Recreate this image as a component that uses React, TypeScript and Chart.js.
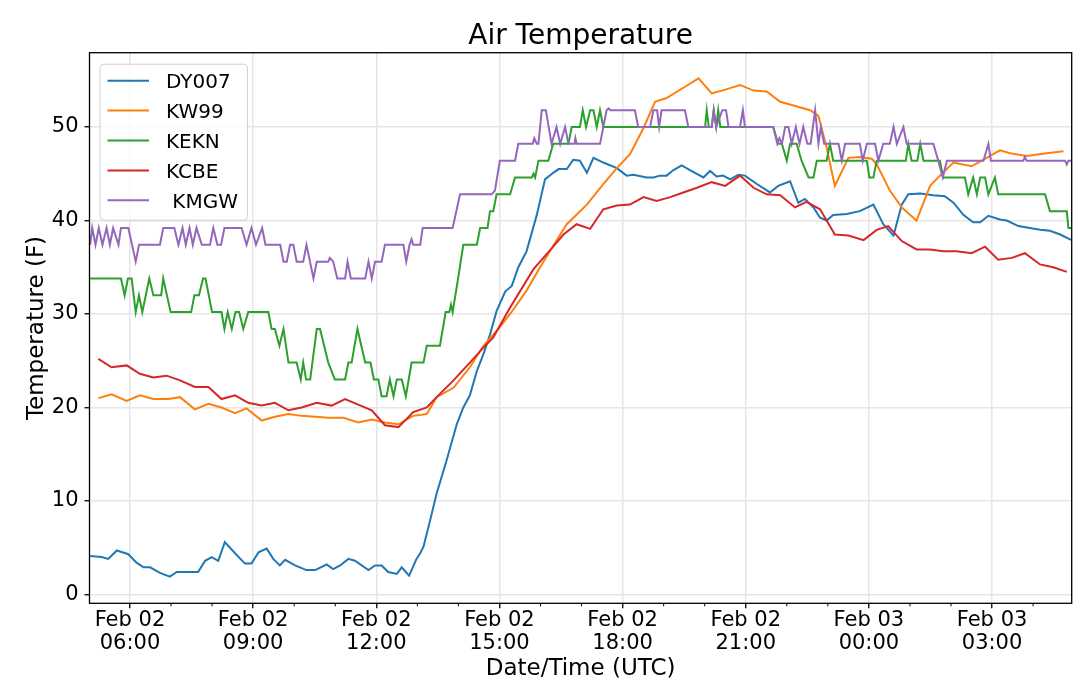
import React, { useEffect, useRef } from 'react';
import { Chart, registerables } from 'chart.js';

Chart.register(...registerables);

const FONT = '"DejaVu Sans", Verdana, sans-serif';

const chartTitle = 'Air Temperature';
const xAxisTitle = 'Date/Time (UTC)';
const yAxisTitle = 'Temperature (F)';

const stationNames = ['DY007', 'KW99', 'KEKN', 'KCBE', ' KMGW'];
const stationColors = ['#1f77b4', '#ff7f0e', '#2ca02c', '#d62728', '#9467bd'];

// hours since Feb 02 00:00 UTC
const xTickHours = [6, 9, 12, 15, 18, 21, 24, 27];
const yTickValues = [0, 10, 20, 30, 40, 50];

const dy007Hours = [5.03, 5.31, 5.47, 5.68, 5.96, 6.16, 6.33, 6.49, 6.73, 6.97, 7.14, 7.66, 7.83, 7.99, 8.15, 8.31, 8.56, 8.8, 8.96, 9.13, 9.33, 9.49, 9.65, 9.78, 10.02, 10.3, 10.51, 10.79, 10.95, 11.12, 11.32, 11.48, 11.81, 11.97, 12.13, 12.29, 12.5, 12.62, 12.8, 12.98, 13.07, 13.15, 13.31, 13.47, 13.71, 13.96, 14.12, 14.28, 14.45, 14.61, 14.77, 14.93, 15.14, 15.3, 15.46, 15.66, 15.91, 16.11, 16.31, 16.44, 16.64, 16.8, 16.96, 17.13, 17.29, 17.53, 17.86, 18.1, 18.26, 18.59, 18.75, 18.91, 19.07, 19.24, 19.44, 19.64, 19.97, 20.13, 20.29, 20.45, 20.62, 20.82, 20.98, 21.27, 21.59, 21.79, 22.08, 22.28, 22.44, 22.65, 22.81, 22.97, 23.13, 23.46, 23.78, 24.11, 24.35, 24.6, 24.8, 24.96, 25.25, 25.57, 25.85, 26.06, 26.3, 26.54, 26.71, 26.91, 27.19, 27.36, 27.64, 27.92, 28.17, 28.41, 28.66, 28.94];
const dy007Temps = [4.1, 4.0, 3.8, 4.7, 4.3, 3.4, 2.9, 2.9, 2.3, 1.9, 2.4, 2.4, 3.6, 4.0, 3.6, 5.6, 4.4, 3.3, 3.3, 4.5, 4.9, 3.8, 3.1, 3.7, 3.1, 2.6, 2.6, 3.2, 2.7, 3.1, 3.8, 3.6, 2.6, 3.1, 3.1, 2.4, 2.2, 2.9, 2.0, 3.8, 4.4, 5.1, 7.9, 10.8, 14.3, 18.2, 20.0, 21.3, 23.9, 25.7, 27.8, 30.3, 32.4, 33.0, 35.0, 36.7, 40.6, 44.4, 45.1, 45.5, 45.5, 46.5, 46.4, 45.1, 46.7, 46.2, 45.6, 44.8, 44.9, 44.6, 44.6, 44.8, 44.8, 45.4, 45.9, 45.4, 44.6, 45.3, 44.7, 44.8, 44.4, 44.9, 44.8, 43.9, 43.0, 43.7, 44.2, 41.9, 42.3, 41.4, 40.3, 40.0, 40.6, 40.7, 41.0, 41.7, 39.6, 38.4, 41.7, 42.8, 42.9, 42.7, 42.6, 41.9, 40.6, 39.8, 39.8, 40.5, 40.1, 40.0, 39.4, 39.2, 39.0, 38.9, 38.5, 37.9];

const kw99Hours = [5.23, 5.55, 5.92, 6.24, 6.57, 6.93, 7.22, 7.58, 7.91, 8.23, 8.56, 8.84, 9.21, 9.53, 9.86, 10.18, 10.51, 10.83, 11.2, 11.56, 11.89, 12.21, 12.54, 12.9, 13.23, 13.47, 13.88, 14.28, 14.61, 14.85, 15.01, 15.26, 15.66, 15.99, 16.31, 16.64, 17.13, 17.53, 17.86, 18.18, 18.51, 18.79, 19.07, 19.48, 19.85, 20.17, 20.5, 20.86, 21.19, 21.51, 21.84, 22.16, 22.57, 22.77, 22.97, 23.17, 23.5, 23.78, 24.07, 24.19, 24.51, 24.8, 25.16, 25.49, 25.73, 26.06, 26.5, 26.87, 27.19, 27.44, 27.84, 28.33, 28.74];
const kw99Temps = [21.0, 21.4, 20.7, 21.3, 20.9, 20.9, 21.1, 19.8, 20.4, 20.0, 19.4, 19.9, 18.6, 19.0, 19.3, 19.1, 19.0, 18.9, 18.9, 18.4, 18.7, 18.4, 18.2, 19.1, 19.3, 21.1, 22.1, 24.3, 26.6, 27.8, 28.6, 30.0, 32.5, 35.0, 37.3, 39.6, 41.7, 43.9, 45.6, 47.1, 49.9, 52.7, 53.1, 54.2, 55.2, 53.6, 54.0, 54.5, 53.9, 53.8, 52.7, 52.3, 51.8, 51.2, 47.8, 43.7, 46.7, 46.8, 46.6, 46.0, 43.2, 41.4, 40.0, 43.7, 44.8, 46.2, 45.8, 46.7, 47.5, 47.2, 46.9, 47.2, 47.4];

const keknHours = [5.03, 5.78, 5.87, 5.95, 6.04, 6.14, 6.22, 6.3, 6.47, 6.57, 6.76, 6.81, 6.99, 7.49, 7.57, 7.68, 7.78, 7.84, 8.0, 8.23, 8.3, 8.38, 8.48, 8.57, 8.66, 8.76, 8.88, 9.37, 9.45, 9.53, 9.64, 9.74, 9.86, 10.06, 10.16, 10.22, 10.29, 10.39, 10.55, 10.63, 10.83, 10.99, 11.24, 11.32, 11.4, 11.54, 11.73, 11.86, 11.94, 12.05, 12.13, 12.25, 12.33, 12.42, 12.5, 12.62, 12.72, 12.86, 13.15, 13.23, 13.55, 13.69, 13.78, 13.82, 13.86, 14.0, 14.12, 14.45, 14.53, 14.71, 14.77, 14.85, 14.93, 15.26, 15.38, 15.79, 15.83, 15.87, 15.95, 16.19, 16.31, 16.68, 16.76, 16.96, 17.03, 17.11, 17.21, 17.29, 17.37, 17.45, 17.53, 20.01, 20.05, 20.1, 20.17, 20.22, 20.28, 20.33, 20.38, 21.67, 21.79, 21.88, 22.0, 22.08, 22.24, 22.36, 22.53, 22.65, 22.73, 22.97, 23.05, 23.13, 23.95, 24.01, 24.11, 24.19, 24.9, 24.96, 25.04, 25.18, 25.25, 25.33, 25.73, 25.81, 26.34, 26.42, 26.54, 26.63, 26.71, 26.83, 26.91, 27.07, 27.15, 28.29, 28.41, 28.82, 28.86, 28.94];
const keknTemps = [33.8, 33.8, 32.0, 33.8, 33.8, 30.2, 32.0, 30.2, 33.8, 32.0, 32.0, 33.8, 30.2, 30.2, 32.0, 32.0, 33.8, 33.8, 30.2, 30.2, 28.4, 30.2, 28.4, 30.2, 30.2, 28.4, 30.2, 30.2, 28.4, 28.4, 26.6, 28.4, 24.8, 24.8, 23.0, 24.8, 23.0, 23.0, 28.4, 28.4, 24.8, 23.0, 23.0, 24.8, 24.8, 28.4, 24.8, 24.8, 23.0, 23.0, 21.2, 21.2, 23.0, 21.2, 23.0, 23.0, 21.2, 24.8, 24.8, 26.6, 26.6, 30.2, 30.2, 31.0, 30.2, 34.0, 37.4, 37.4, 39.2, 39.2, 41.0, 41.0, 42.8, 42.8, 44.6, 44.6, 45.0, 44.6, 46.4, 46.4, 48.2, 48.2, 50.0, 50.0, 51.8, 50.0, 51.8, 51.8, 50.0, 51.8, 50.0, 50.0, 51.8, 50.0, 50.0, 51.8, 50.0, 51.8, 50.0, 50.0, 48.2, 48.2, 46.4, 48.2, 48.2, 46.4, 44.6, 44.6, 46.4, 46.4, 48.2, 46.4, 46.4, 44.6, 44.6, 46.4, 46.4, 48.2, 46.4, 46.4, 48.2, 46.4, 46.4, 44.6, 44.6, 42.8, 44.6, 42.8, 44.6, 44.6, 42.8, 44.6, 42.8, 42.8, 41.0, 41.0, 39.2, 39.2];

const kcbeHours = [5.23, 5.55, 5.92, 6.24, 6.57, 6.89, 7.22, 7.58, 7.91, 8.23, 8.56, 8.88, 9.21, 9.53, 9.86, 10.18, 10.55, 10.91, 11.24, 11.56, 11.89, 12.21, 12.54, 12.9, 13.23, 13.47, 13.88, 14.28, 14.61, 14.85, 15.26, 15.83, 16.23, 16.56, 16.88, 17.21, 17.53, 17.86, 18.18, 18.51, 18.83, 19.16, 19.48, 19.81, 20.17, 20.5, 20.86, 21.19, 21.51, 21.84, 22.2, 22.48, 22.81, 23.17, 23.5, 23.87, 24.19, 24.47, 24.8, 25.16, 25.49, 25.81, 26.14, 26.5, 26.83, 27.15, 27.48, 27.8, 28.17, 28.49, 28.82];
const kcbeTemps = [25.2, 24.3, 24.5, 23.6, 23.2, 23.4, 22.9, 22.2, 22.2, 20.9, 21.3, 20.5, 20.2, 20.5, 19.7, 20.0, 20.5, 20.2, 20.9, 20.3, 19.7, 18.1, 17.9, 19.5, 20.0, 21.1, 22.9, 24.8, 26.4, 27.5, 30.7, 34.8, 36.8, 38.5, 39.6, 39.1, 41.2, 41.6, 41.7, 42.5, 42.1, 42.5, 43.0, 43.5, 44.1, 43.7, 44.8, 43.5, 42.8, 42.7, 41.4, 42.0, 41.2, 38.5, 38.4, 37.9, 39.0, 39.4, 37.8, 36.9, 36.9, 36.7, 36.7, 36.5, 37.2, 35.8, 36.0, 36.5, 35.3, 35.0, 34.5];

const kmgwHours = [5.03, 5.08, 5.16, 5.24, 5.33, 5.43, 5.51, 5.59, 5.72, 5.78, 5.96, 6.14, 6.22, 6.73, 6.81, 7.08, 7.18, 7.28, 7.36, 7.45, 7.53, 7.62, 7.75, 7.95, 8.03, 8.13, 8.22, 8.3, 8.72, 8.84, 8.96, 9.07, 9.22, 9.3, 9.66, 9.74, 9.82, 9.9, 9.98, 10.06, 10.22, 10.3, 10.47, 10.55, 10.83, 10.87, 10.95, 11.05, 11.24, 11.3, 11.38, 11.73, 11.81, 11.89, 11.97, 12.13, 12.21, 12.66, 12.73, 12.81, 12.86, 12.9, 13.07, 13.13, 13.86, 13.9, 14.04, 14.81, 14.89, 15.01, 15.38, 15.46, 15.81, 15.85, 15.91, 15.95, 16.03, 16.13, 16.27, 16.39, 16.48, 16.6, 16.68, 16.83, 16.85, 16.88, 17.45, 17.61, 17.66, 17.7, 18.3, 18.38, 18.67, 18.75, 18.84, 18.89, 18.95, 19.52, 19.6, 20.17, 20.22, 20.28, 20.43, 20.52, 20.58, 20.86, 20.93, 20.98, 21.67, 21.77, 21.82, 21.88, 21.96, 22.04, 22.12, 22.22, 22.31, 22.4, 22.5, 22.58, 22.69, 22.77, 22.83, 22.91, 23.26, 23.34, 23.42, 23.78, 23.85, 23.95, 24.15, 24.23, 24.35, 24.51, 24.6, 24.68, 24.84, 24.92, 25.57, 25.69, 25.8, 25.9, 26.79, 26.91, 26.97, 27.76, 27.8, 27.84, 28.78, 28.82, 28.86, 28.94];
const kmgwTemps = [37.4, 39.2, 37.4, 39.2, 37.4, 39.2, 37.4, 39.2, 37.4, 39.2, 39.2, 35.6, 37.4, 37.4, 39.2, 39.2, 37.4, 39.2, 37.4, 39.2, 37.4, 39.2, 37.4, 37.4, 39.2, 37.4, 37.4, 39.2, 39.2, 37.4, 39.2, 37.4, 39.2, 37.4, 37.4, 35.6, 35.6, 37.4, 37.4, 35.6, 35.6, 37.4, 33.8, 35.6, 35.6, 36.0, 35.6, 33.8, 33.8, 35.6, 33.8, 33.8, 35.6, 33.8, 35.6, 35.6, 37.4, 37.4, 35.6, 37.4, 38.0, 37.4, 37.4, 39.2, 39.2, 40.0, 42.8, 42.8, 43.2, 46.4, 46.4, 48.2, 48.2, 48.8, 48.2, 48.2, 51.8, 51.8, 48.2, 50.0, 48.2, 50.0, 48.2, 48.2, 48.8, 48.2, 48.2, 51.8, 52.0, 51.8, 51.8, 50.0, 50.0, 51.8, 51.8, 50.0, 51.8, 51.8, 50.0, 50.0, 51.8, 50.0, 51.8, 51.8, 50.0, 50.0, 51.8, 50.0, 50.0, 48.2, 48.8, 48.2, 50.0, 50.0, 48.2, 50.0, 48.2, 50.0, 48.2, 48.2, 51.8, 48.2, 50.0, 48.2, 48.2, 46.4, 48.2, 48.2, 46.4, 48.2, 48.2, 46.4, 48.2, 48.2, 50.0, 48.2, 50.0, 48.2, 48.2, 46.4, 44.6, 46.4, 46.4, 48.2, 46.4, 46.4, 46.8, 46.4, 46.4, 46.0, 46.4, 46.4];

const seriesHours = [dy007Hours, kw99Hours, keknHours, kcbeHours, kmgwHours];
const seriesTemps = [dy007Temps, kw99Temps, keknTemps, kcbeTemps, kmgwTemps];

const pad2 = (n) => (n < 10 ? '0' + n : '' + n);

// title, axes frame, minor ticks and the in-plot legend (matplotlib look)
const decorPlugin = {
  id: 'decor',
  afterDraw(chart) {
    const { ctx, chartArea: a, scales } = chart;
    ctx.save();

    // minor x ticks every hour
    ctx.strokeStyle = '#000';
    ctx.lineWidth = 1;
    for (let h = 6; h <= 28; h++) {
      if (h % 3 === 0) continue;
      const px = scales.x.getPixelForValue(h);
      ctx.beginPath();
      ctx.moveTo(px, a.bottom);
      ctx.lineTo(px, a.bottom + 3);
      ctx.stroke();
    }

    // frame
    ctx.lineWidth = 1.3;
    ctx.strokeRect(a.left, a.top, a.right - a.left, a.bottom - a.top);

    // title
    ctx.fillStyle = '#000';
    ctx.font = `28px ${FONT}`;
    ctx.textAlign = 'center';
    ctx.textBaseline = 'alphabetic';
    ctx.fillText(chartTitle, (a.left + a.right) / 2, 44.3);

    // legend box
    const lx = a.left + 10.5;
    const ly = a.top + 11.5;
    const lw = 147.5;
    const lh = 156;
    const r = 4;
    ctx.beginPath();
    ctx.moveTo(lx + r, ly);
    ctx.lineTo(lx + lw - r, ly);
    ctx.arcTo(lx + lw, ly, lx + lw, ly + r, r);
    ctx.lineTo(lx + lw, ly + lh - r);
    ctx.arcTo(lx + lw, ly + lh, lx + lw - r, ly + lh, r);
    ctx.lineTo(lx + r, ly + lh);
    ctx.arcTo(lx, ly + lh, lx, ly + lh - r, r);
    ctx.lineTo(lx, ly + r);
    ctx.arcTo(lx, ly, lx + r, ly, r);
    ctx.closePath();
    ctx.fillStyle = 'rgba(255,255,255,0.8)';
    ctx.fill();
    ctx.strokeStyle = '#d0d0d0';
    ctx.lineWidth = 1;
    ctx.stroke();

    ctx.font = `20px ${FONT}`;
    ctx.textAlign = 'left';
    chart.data.datasets.forEach((ds, i) => {
      const rowY = ly + 16.5 + i * 29.9;
      ctx.strokeStyle = ds.borderColor;
      ctx.lineWidth = 2;
      ctx.beginPath();
      ctx.moveTo(lx + 7.5, rowY);
      ctx.lineTo(lx + 49, rowY);
      ctx.stroke();
      ctx.fillStyle = '#000';
      ctx.fillText(ds.label, lx + 66, rowY + 7.4);
    });

    ctx.restore();
  },
};

const AirTemperatureChart = () => {
  const chartRef = useRef(null);

  useEffect(() => {
    const ctx = chartRef.current.getContext('2d');

    const datasets = stationNames.map((name, i) => ({
      label: name,
      data: seriesHours[i].map((h, j) => ({ x: h, y: seriesTemps[i][j] })),
      borderColor: stationColors[i],
      backgroundColor: stationColors[i],
      borderWidth: 2,
      pointRadius: 0,
      tension: 0,
      fill: false,
      order: stationNames.length - i, // last series on top, like matplotlib
    }));

    const chart = new Chart(ctx, {
      type: 'line',
      data: { datasets },
      plugins: [decorPlugin],
      options: {
        animation: false,
        responsive: true,
        maintainAspectRatio: false,
        layout: { padding: { left: 0, top: 52.7, right: 8.3, bottom: 0 } },
        plugins: {
          legend: { display: false },
          title: { display: false },
          tooltip: { enabled: false },
        },
        scales: {
          x: {
            type: 'linear',
            min: 5.014,
            max: 28.94,
            afterBuildTicks: (scale) => {
              scale.ticks = xTickHours.map((v) => ({ value: v }));
            },
            afterFit: (scale) => {
              scale.height = 81.7;
            },
            border: { display: false },
            grid: {
              color: '#e6e6e6',
              lineWidth: 1.5,
              drawTicks: true,
              tickLength: 5,
              tickColor: '#000',
              tickWidth: 1.3,
            },
            ticks: {
              autoSkip: false,
              maxRotation: 0,
              padding: 0,
              color: '#000',
              font: { family: FONT, size: 21, lineHeight: 1.13 },
              callback: (value) => {
                const h = Number(value);
                const day = h >= 24 ? '03' : '02';
                return ['Feb ' + day, pad2(h % 24) + ':00'];
              },
            },
            title: {
              display: true,
              text: xAxisTitle,
              color: '#000',
              font: { family: FONT, size: 23 },
              padding: { top: 0, bottom: 1.8 },
            },
          },
          y: {
            min: -0.95,
            max: 57.95,
            afterBuildTicks: (scale) => {
              scale.ticks = yTickValues.map((v) => ({ value: v }));
            },
            afterFit: (scale) => {
              scale.width = 89.5;
            },
            border: { display: false },
            grid: {
              color: '#e6e6e6',
              lineWidth: 1.5,
              drawTicks: true,
              tickLength: 5,
              tickColor: '#000',
              tickWidth: 1.3,
            },
            ticks: {
              padding: 6,
              color: '#000',
              font: { family: FONT, size: 21 },
            },
            title: {
              display: true,
              text: yAxisTitle,
              color: '#000',
              font: { family: FONT, size: 23 },
              padding: { top: 23, bottom: 0 },
            },
          },
        },
      },
    });

    return () => {
      chart.destroy();
    };
  }, []);

  return (
    <div style={{ position: 'absolute', left: 0, top: 0, width: 1080, height: 685, background: '#fff' }}>
      <canvas ref={chartRef} />
    </div>
  );
};

export default function App() {
  return <AirTemperatureChart />;
}
